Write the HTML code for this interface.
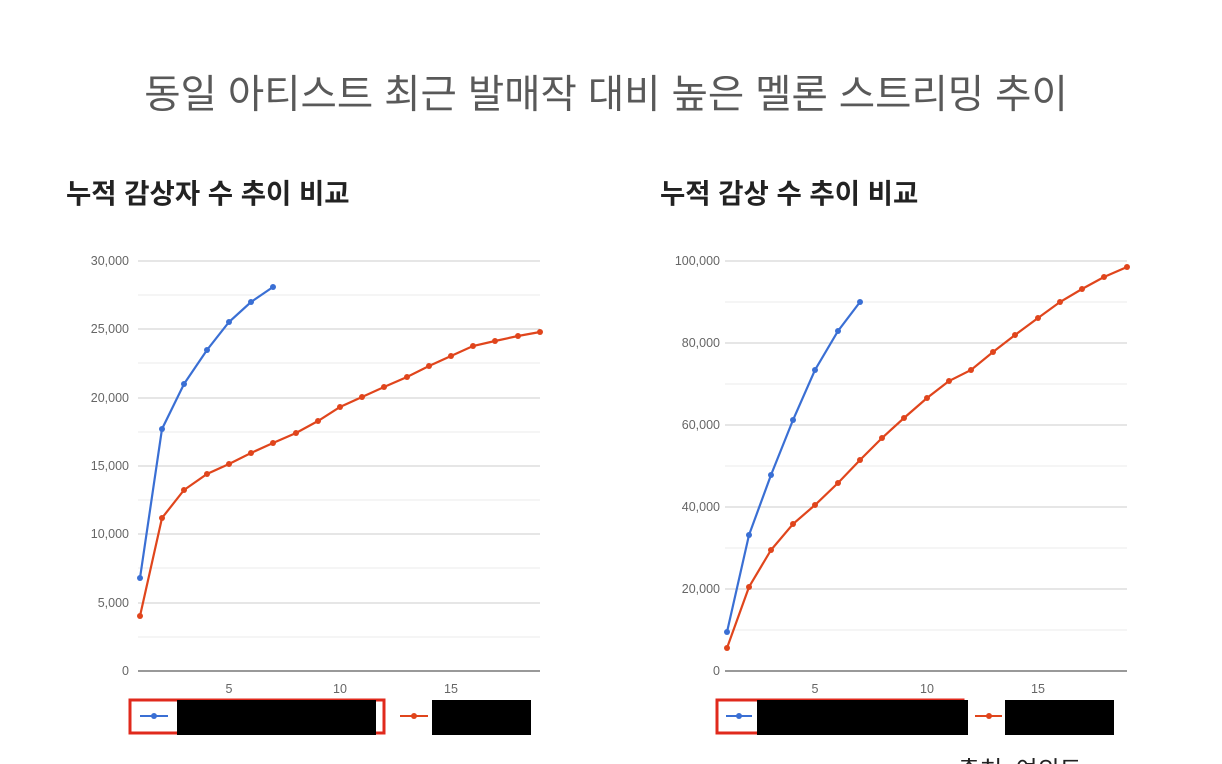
<!DOCTYPE html><html><head><meta charset="utf-8"><style>
body{margin:0;width:1222px;height:764px;overflow:hidden;background:#fff;font-family:"Liberation Sans","Noto Sans CJK KR",sans-serif}
</style></head><body>
<svg width="1222" height="764" xmlns="http://www.w3.org/2000/svg" style="position:absolute;left:0;top:0">
<text x="606" y="108" text-anchor="middle" font-size="39.5" fill="#595959" font-family="Liberation Sans,Noto Sans CJK KR,sans-serif">동일 아티스트 최근 발매작 대비 높은 멜론 스트리밍 추이</text>
<text x="66" y="203" font-size="27.5" font-weight="bold" fill="#222" font-family="Liberation Sans,Noto Sans CJK KR,sans-serif">누적 감상자 수 추이 비교</text>
<text x="660" y="203" font-size="27.5" font-weight="bold" fill="#222" font-family="Liberation Sans,Noto Sans CJK KR,sans-serif">누적 감상 수 추이 비교</text>
<g font-family="Liberation Sans,sans-serif" font-size="12.5" fill="#666" text-anchor="end">
<g stroke="#ebebeb"><line x1="138" x2="540" y1="637" y2="637"/><line x1="138" x2="540" y1="568" y2="568"/><line x1="138" x2="540" y1="500" y2="500"/><line x1="138" x2="540" y1="432" y2="432"/><line x1="138" x2="540" y1="363" y2="363"/><line x1="138" x2="540" y1="295" y2="295"/></g>
<g stroke="#ccc"><line x1="138" x2="540" y1="603" y2="603"/><line x1="138" x2="540" y1="534" y2="534"/><line x1="138" x2="540" y1="466" y2="466"/><line x1="138" x2="540" y1="398" y2="398"/><line x1="138" x2="540" y1="329" y2="329"/><line x1="138" x2="540" y1="261" y2="261"/></g>
<line x1="138" x2="540" y1="671" y2="671" stroke="#333"/>
<text x="129" y="675">0</text><text x="129" y="607">5,000</text><text x="129" y="538">10,000</text><text x="129" y="470">15,000</text><text x="129" y="402">20,000</text><text x="129" y="333">25,000</text><text x="129" y="265">30,000</text>
<g text-anchor="middle"><text x="229" y="693">5</text><text x="340" y="693">10</text><text x="451" y="693">15</text></g>
<g stroke="#ebebeb"><line x1="725" x2="1127" y1="630" y2="630"/><line x1="725" x2="1127" y1="548" y2="548"/><line x1="725" x2="1127" y1="466" y2="466"/><line x1="725" x2="1127" y1="384" y2="384"/><line x1="725" x2="1127" y1="302" y2="302"/></g>
<g stroke="#ccc"><line x1="725" x2="1127" y1="589" y2="589"/><line x1="725" x2="1127" y1="507" y2="507"/><line x1="725" x2="1127" y1="425" y2="425"/><line x1="725" x2="1127" y1="343" y2="343"/><line x1="725" x2="1127" y1="261" y2="261"/></g>
<line x1="725" x2="1127" y1="671" y2="671" stroke="#333"/>
<text x="720" y="675">0</text><text x="720" y="593">20,000</text><text x="720" y="511">40,000</text><text x="720" y="429">60,000</text><text x="720" y="347">80,000</text><text x="720" y="265">100,000</text>
<g text-anchor="middle"><text x="815" y="693">5</text><text x="927" y="693">10</text><text x="1038" y="693">15</text></g>
</g>
<g fill="none" stroke-width="2.2">
<polyline stroke="#3a6fd4" points="140,578 162,429 184,384 207,350 229,322 251,302 273,287"/>
<polyline stroke="#e0451c" points="140,616 162,518 184,490 207,474 229,464 251,453 273,443 296,433 318,421 340,407 362,397 384,387 407,377 429,366 451,356 473,346 495,341 518,336 540,332"/>
<polyline stroke="#3a6fd4" points="727,632 749,535 771,475 793,420 815,370 838,331 860,302"/>
<polyline stroke="#e0451c" points="727,648 749,587 771,550 793,524 815,505 838,483 860,460 882,438 904,418 927,398 949,381 971,370 993,352 1015,335 1038,318 1060,302 1082,289 1104,277 1127,267"/>
</g>
<g fill="#3a6fd4"><circle cx="140" cy="578" r="3"/><circle cx="162" cy="429" r="3"/><circle cx="184" cy="384" r="3"/><circle cx="207" cy="350" r="3"/><circle cx="229" cy="322" r="3"/><circle cx="251" cy="302" r="3"/><circle cx="273" cy="287" r="3"/>
<circle cx="727" cy="632" r="3"/><circle cx="749" cy="535" r="3"/><circle cx="771" cy="475" r="3"/><circle cx="793" cy="420" r="3"/><circle cx="815" cy="370" r="3"/><circle cx="838" cy="331" r="3"/><circle cx="860" cy="302" r="3"/></g>
<g fill="#e0451c"><circle cx="140" cy="616" r="3"/><circle cx="162" cy="518" r="3"/><circle cx="184" cy="490" r="3"/><circle cx="207" cy="474" r="3"/><circle cx="229" cy="464" r="3"/><circle cx="251" cy="453" r="3"/><circle cx="273" cy="443" r="3"/><circle cx="296" cy="433" r="3"/><circle cx="318" cy="421" r="3"/><circle cx="340" cy="407" r="3"/><circle cx="362" cy="397" r="3"/><circle cx="384" cy="387" r="3"/><circle cx="407" cy="377" r="3"/><circle cx="429" cy="366" r="3"/><circle cx="451" cy="356" r="3"/><circle cx="473" cy="346" r="3"/><circle cx="495" cy="341" r="3"/><circle cx="518" cy="336" r="3"/><circle cx="540" cy="332" r="3"/>
<circle cx="727" cy="648" r="3"/><circle cx="749" cy="587" r="3"/><circle cx="771" cy="550" r="3"/><circle cx="793" cy="524" r="3"/><circle cx="815" cy="505" r="3"/><circle cx="838" cy="483" r="3"/><circle cx="860" cy="460" r="3"/><circle cx="882" cy="438" r="3"/><circle cx="904" cy="418" r="3"/><circle cx="927" cy="398" r="3"/><circle cx="949" cy="381" r="3"/><circle cx="971" cy="370" r="3"/><circle cx="993" cy="352" r="3"/><circle cx="1015" cy="335" r="3"/><circle cx="1038" cy="318" r="3"/><circle cx="1060" cy="302" r="3"/><circle cx="1082" cy="289" r="3"/><circle cx="1104" cy="277" r="3"/><circle cx="1127" cy="267" r="3"/></g>
<rect x="130" y="700" width="254" height="33" fill="none" stroke="#e02a1c" stroke-width="3"/>
<line x1="140" x2="168" y1="716" y2="716" stroke="#3a6fd4" stroke-width="2"/><circle cx="154" cy="716" r="3" fill="#3a6fd4"/>
<rect x="177" y="700" width="199" height="35" fill="#000"/>
<line x1="400" x2="428" y1="716" y2="716" stroke="#e0451c" stroke-width="2"/><circle cx="414" cy="716" r="3" fill="#e0451c"/>
<rect x="432" y="700" width="99" height="35" fill="#000"/>
<rect x="717" y="700" width="246" height="33" fill="none" stroke="#e02a1c" stroke-width="3"/>
<line x1="726" x2="752" y1="716" y2="716" stroke="#3a6fd4" stroke-width="2"/><circle cx="739" cy="716" r="3" fill="#3a6fd4"/>
<rect x="757" y="700" width="211" height="35" fill="#000"/>
<line x1="975" x2="1002" y1="716" y2="716" stroke="#e0451c" stroke-width="2"/><circle cx="989" cy="716" r="3" fill="#e0451c"/>
<rect x="1005" y="700" width="109" height="35" fill="#000"/>
<text x="958" y="778" font-size="24" fill="#222" font-family="Liberation Sans,Noto Sans CJK KR,sans-serif">출처: 여의도</text>
</svg>
</body></html>
